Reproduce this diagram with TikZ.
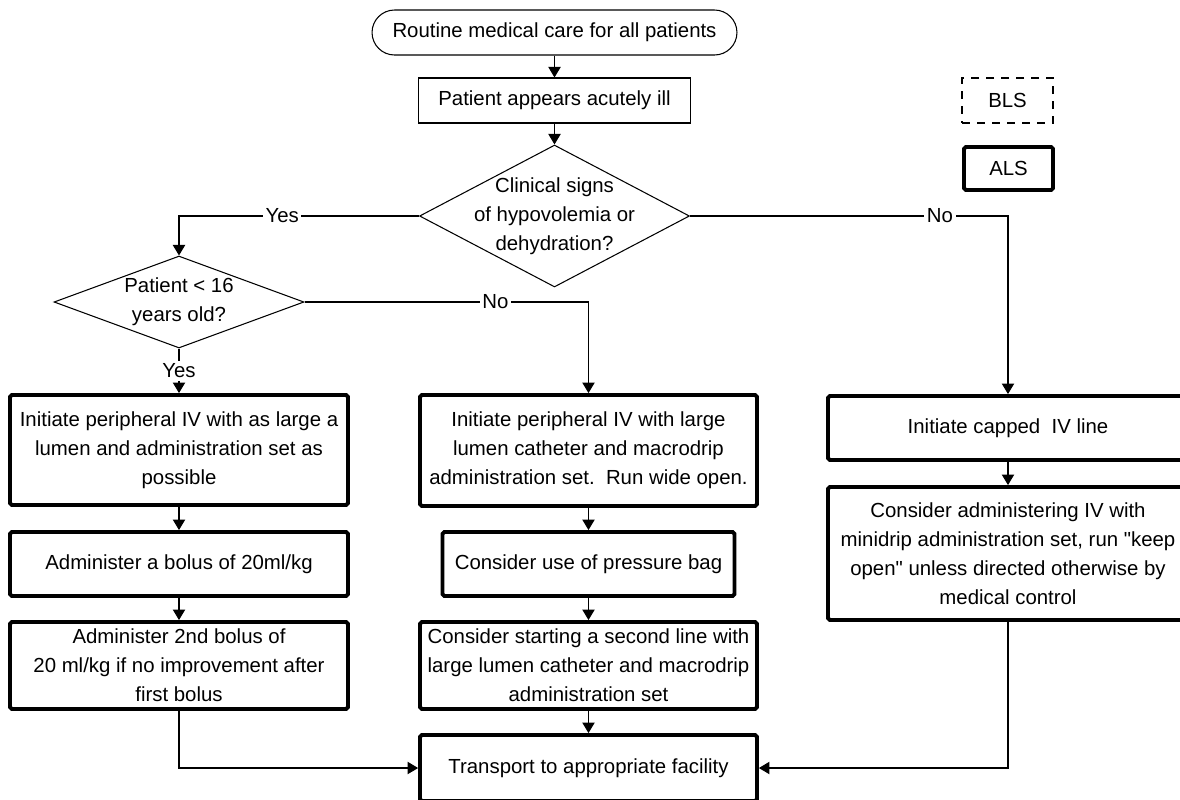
\documentclass[tikz,border=0pt]{standalone}
\usepackage{fontspec}
\setmainfont{Liberation Sans}
\usepackage{tikz}
\usetikzlibrary{arrows.meta}
\usetikzlibrary{shapes.geometric}
\newcommand{\straightquote}{\XeTeXglyph\XeTeXglyphindex "quotedbl" }
\tikzset{every edge/.style={draw, line width=0.6pt}}
\tikzset{plainbox/.style={draw, line width=0.6pt, inner sep=0pt, align=center},
  boldbox/.style={draw, line width=2.2pt, rounded corners=1pt, inner sep=0pt, align=center},
  decision/.style={draw, diamond, line width=0.6pt, inner sep=0pt},
  answer/.style={fill=white, inner sep=1.5pt}}

\begin{document}
\begin{tikzpicture}[x=0.02cm, y=-0.02cm, font=\fontsize{11.6}{16.5}\selectfont,
    >={Triangle[width=7pt,length=6pt]}, line width=0.6pt]
  \useasboundingbox (0, 0) rectangle (1180, 799);

  % top of the chart
  \node[plainbox, rounded corners=0.45cm, minimum width=7.3cm, minimum height=0.9cm] at (554.5, 32.5) (start) {Routine medical care for all patients};
  \node[plainbox, minimum width=5.44cm, minimum height=0.9cm] at (554.5, 100.5) (ill) {Patient appears acutely ill};
  \node[decision, minimum width=5.4cm, minimum height=2.84cm,
    label={[name=hypotext, align=center]center:Clinical signs\\of hypovolemia or\\dehydration?}] at (554.5, 216) (hypo) {};
  \node[decision, minimum width=5cm, minimum height=1.84cm,
    label={[name=youngtext, align=center]center:Patient < 16\\years old?}] at (179, 302) (young) {};

  % legend
  \node[plainbox, dash pattern=on 0.16cm off 0.14cm, minimum width=1.82cm, minimum height=0.9cm] at (1007.5, 100.5) (bls) {BLS};
  \node[boldbox, minimum width=1.78cm, minimum height=0.86cm] at (1008.5, 168.5) (als) {ALS};

  % left column
  \node[boldbox, minimum width=6.76cm, minimum height=2.2cm] at (179, 450) (init) {Initiate peripheral IV with as large a\\lumen and administration set as\\possible};
  \node[boldbox, minimum width=6.76cm, minimum height=1.28cm] at (179, 564) (bolus) {Administer a bolus of 20ml/kg};
  \node[boldbox, minimum width=6.76cm, minimum height=1.74cm] at (179, 665.5) (bolustwo) {Administer 2nd bolus of\\20 ml/kg if no improvement after\\first bolus};

  % middle column
  \node[boldbox, minimum width=6.74cm, minimum height=2.22cm] at (588.5, 450.5) (largeiv) {Initiate peripheral IV with large\\lumen catheter and macrodrip\\administration set.\ \ Run wide open.};
  \node[boldbox, minimum width=5.84cm, minimum height=1.28cm] at (588.5, 564) (pressure) {Consider use of pressure bag};
  \node[boldbox, minimum width=6.74cm, minimum height=1.74cm] at (588.5, 665.5) (secondline) {Consider starting a second line with\\large lumen catheter and macrodrip\\administration set};
  \node[boldbox, minimum width=6.74cm, minimum height=1.32cm] at (588.5, 768) (transport) {Transport to appropriate facility};

  % right column
  \node[boldbox, minimum width=7.2cm, minimum height=1.28cm] at (1008, 428) (capped) {Initiate capped\ \ IV line};
  \node[boldbox, minimum width=7.2cm, minimum height=2.66cm] at (1008, 553.5) (consider) {Consider administering IV with\\minidrip administration set, run \straightquote keep\\open\straightquote\ unless directed otherwise by\\medical control};

  \draw (start) edge[->] (ill);
  \draw (ill) edge[->] (hypo);
  \draw[->] (hypo.west) -| node[answer, pos=0.285] {Yes} (young.north);
  \draw[->] (hypo.east) -| node[answer, pos=0.393] {No} (capped.north);
  \draw[->] (young.east) -| node[answer, pos=0.336] {No} (largeiv.north);
  \draw (young) edge[->] node[answer] {Yes} (init);

  \draw (init) edge[->] (bolus);
  \draw (bolus) edge[->] (bolustwo);
  \draw (largeiv) edge[->] (pressure);
  \draw (pressure) edge[->] (secondline);
  \draw (secondline) edge[->] (transport);
  \draw (capped) edge[->] (consider);

  \draw[->] (bolustwo.south) |- (transport.west);
  \draw[->] (consider.south) |- (transport.east);
\end{tikzpicture}
\end{document}
